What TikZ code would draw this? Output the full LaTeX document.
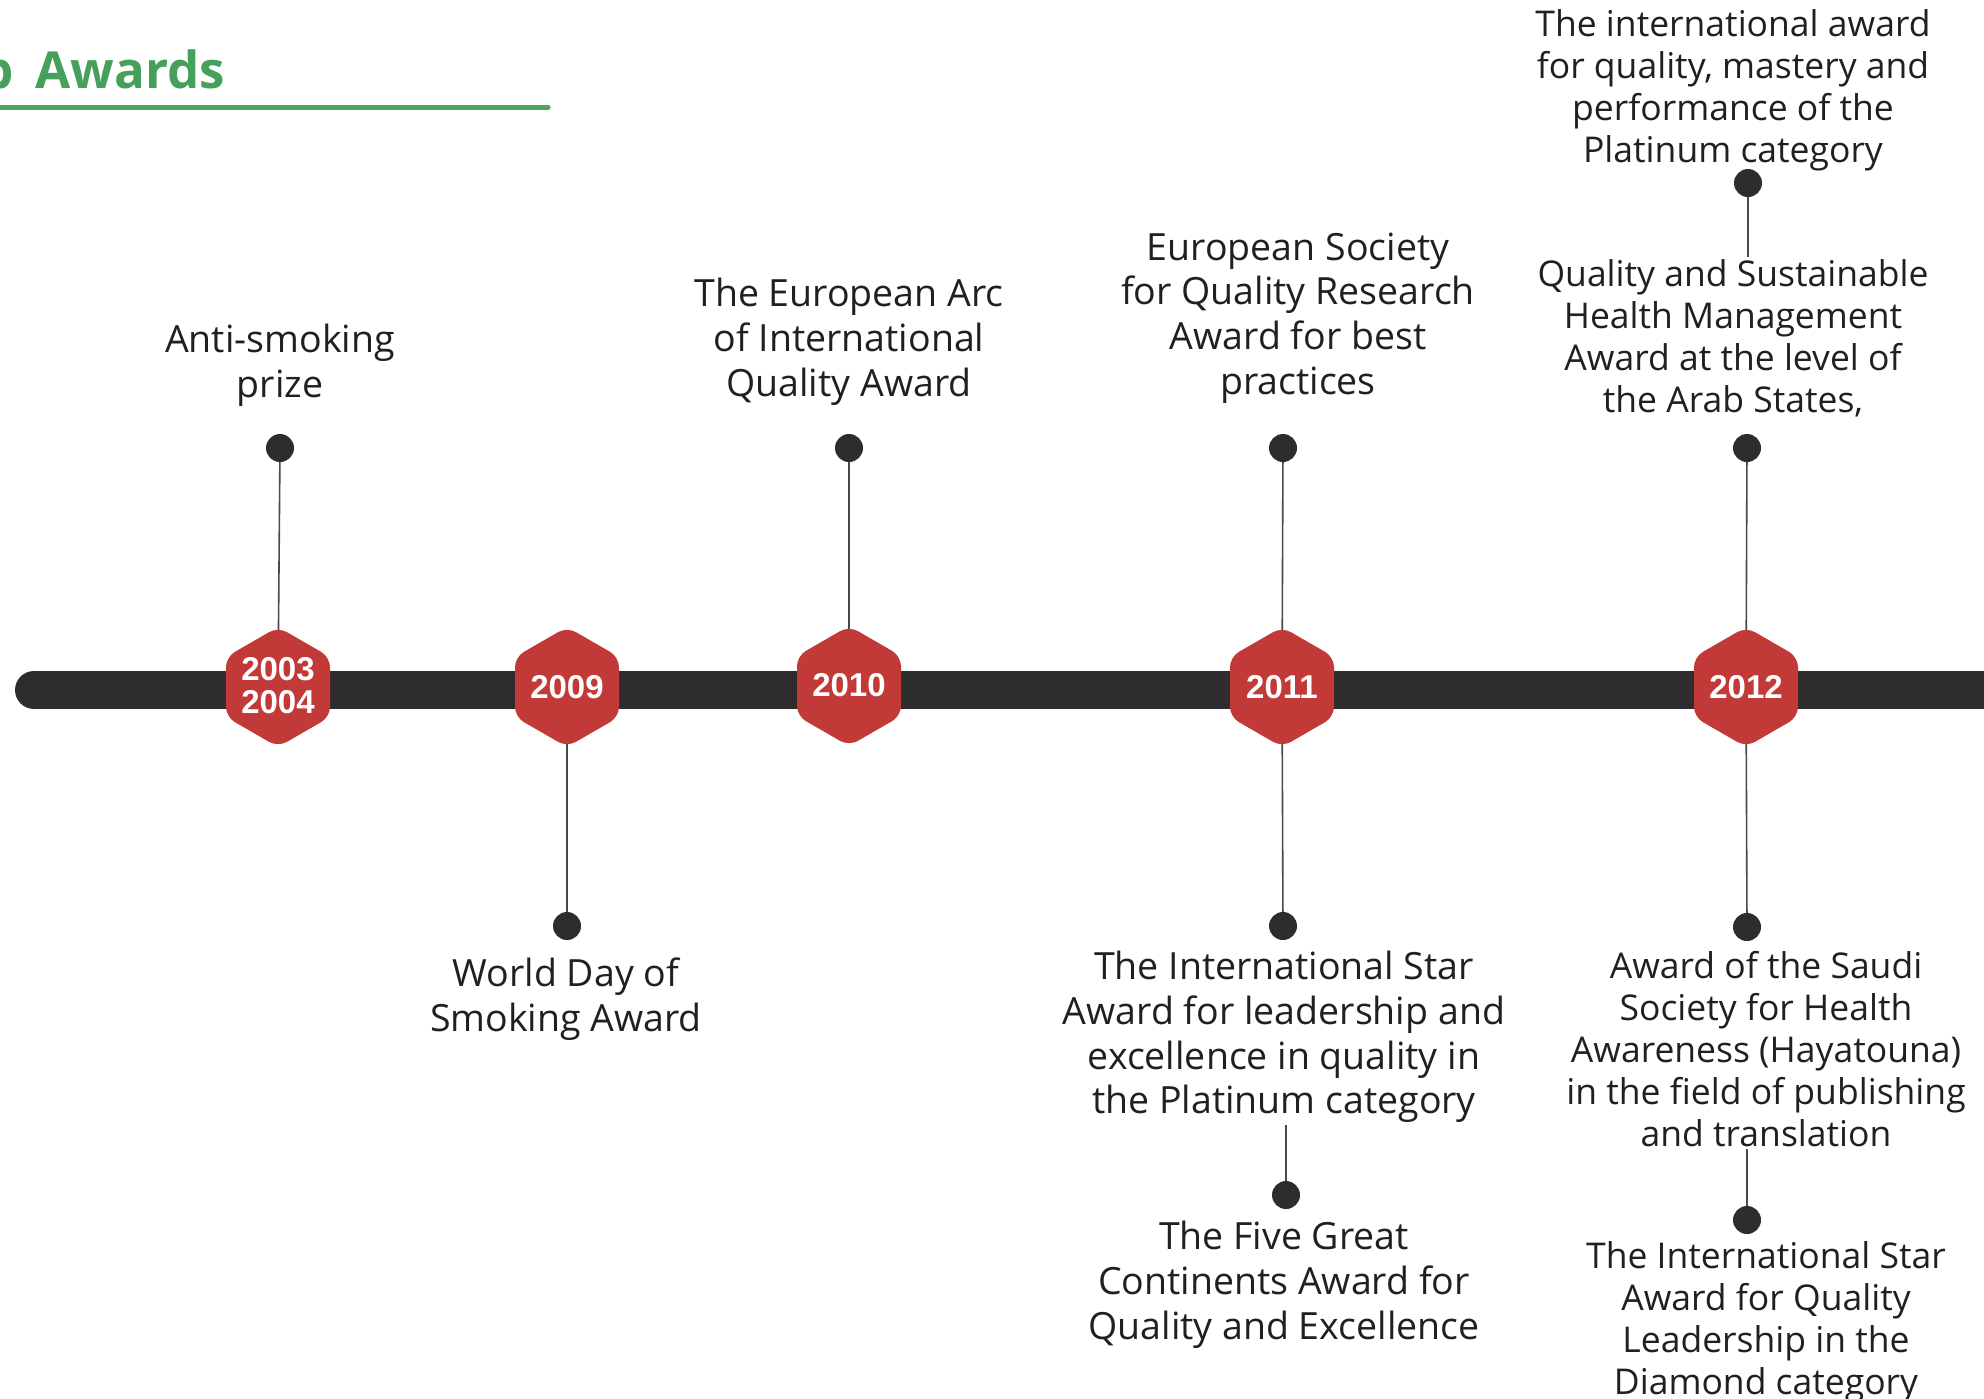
\documentclass[tikz,border=0pt]{standalone}
\usepackage{fontspec}
\setmainfont{Open Sans}
\newfontfamily\yearfont{Liberation Sans}
\usetikzlibrary{backgrounds}
\definecolor{barcol}{HTML}{2E2C2D}
\definecolor{hexred}{HTML}{C23A38}
\definecolor{titlegreen}{HTML}{44A05A}
\definecolor{linegreen}{HTML}{4CA55A}
\definecolor{txtcol}{HTML}{231F20}
\definecolor{conncol}{HTML}{4A4A4A}
\tikzset{
  lbl/.style={align=center, text=txtcol, inner sep=2pt, font=\fontsize{37.5}{44.8}\selectfont},
  lblsmall/.style={align=center, text=txtcol, inner sep=2pt, font=\fontsize{35.5}{42}\selectfont},
  dotnode/.style={circle, fill=barcol, minimum size=28pt, inner sep=0pt},
  yeartext/.style={text=white, align=center, inner sep=1pt, font=\yearfont\bfseries\fontsize{33}{33}\selectfont},
  hexshape/.style={fill=hexred, rounded corners=10pt},
  connector/.style={draw=conncol, line width=1.6pt},
  timebar/.style={draw=barcol, line width=38pt, line cap=round}
}
\newcommand{\hexat}[2]{\fill[hexshape] (#1+52,#2-30) -- (#1,#2-60) -- (#1-52,#2-30) -- (#1-52,#2+30) -- (#1,#2+60) -- (#1+52,#2+30) -- cycle;}
\begin{document}
\begin{tikzpicture}[x=1pt,y=-1pt]
\useasboundingbox (0,0) rectangle (1984,1398);
\clip (0,0) rectangle (1984,1398);

% title (left part cut off by the page edge, as in the reference)
\node[anchor=base west, inner sep=0pt, text=titlegreen, font=\bfseries\fontsize{51}{60}\selectfont] (title) at (-19,88) {b\hspace{9pt} Awards};
\coordinate (gl1) at (-10,107);
\coordinate (gl2) at (548,107);
\draw[linegreen, line width=5pt, line cap=round] (gl1) -- (gl2);

% bar
\coordinate (barL) at (34,690);
\coordinate (barR) at (2030,690);

% hexagons
\hexat{278}{687}
\hexat{567}{687}
\hexat{849}{686}
\hexat{1282}{687}
\hexat{1746}{687}
\node[yeartext] (y1) at (278,686) {2003\\2004};
\node[yeartext] (y2) at (567,687) {2009};
\node[yeartext] (y3) at (849,685) {2010};
\node[yeartext] (y4) at (1282,687) {2011};
\node[yeartext] (y5) at (1746,687) {2012};

% dots
\node[dotnode] (d1) at (280,448) {};
\node[dotnode] (d2) at (567,926) {};
\node[dotnode] (d3) at (849,448) {};
\node[dotnode] (d4) at (1283,448) {};
\node[dotnode] (d5) at (1283,926) {};
\node[dotnode] (d6) at (1286,1195) {};
\node[dotnode] (d7) at (1748,183) {};
\node[dotnode] (d8) at (1747,448) {};
\node[dotnode] (d9) at (1747,927) {};
\node[dotnode] (d10) at (1747,1220) {};

% labels
\node[lbl] (t1) at (280,365) {Anti-smoking\\prize};
\node[lbl] (t2) at (566,999) {World Day of\\Smoking Award};
\node[lbl] (t3) at (849,342) {The European Arc\\of International\\Quality Award};
\node[lbl] (t4) at (1298,318) {European Society\\for Quality Research\\Award for best\\practices};
\node[lbl] (t5) at (1284,1037) {The International Star\\Award for leadership and\\excellence in quality in\\the Platinum category};
\node[lbl] (t6) at (1284,1285) {The Five Great\\Continents Award for\\Quality and Excellence};
\node[lblsmall] (t7) at (1733,90) {The international award\\for quality, mastery and\\performance of the\\Platinum category};
\node[lblsmall] (t8) at (1733,338) {Quality and Sustainable\\Health Management\\Award at the level of\\the Arab States,};
\node[lblsmall] (t9) at (1766,1049) {Award of the Saudi\\Society for Health\\Awareness (Hayatouna)\\in the field of publishing\\and translation};
\node[lblsmall] (t10) at (1766,1322) {The International Star\\Award for Quality\\Leadership in the\\Diamond category};

\begin{pgfonlayer}{background}
\fill[white] (0,0) rectangle (1984,1398);
\draw[timebar] (barL) -- (barR);
\draw[connector] (d1) -- (y1);
\draw[connector] (y2) -- (d2);
\draw[connector] (d3) -- (y3);
\draw[connector] (d4) -- (y4);
\draw[connector] (y4) -- (d5);
\draw[connector] (d8) -- (y5);
\draw[connector] (y5) -- (d9);
\draw[connector] (d7) -- (d7 |- t8.north);
\draw[connector] (t5.south -| d6) -- (d6);
\draw[connector] (t9.south -| d10) -- (d10);
\end{pgfonlayer}
\end{tikzpicture}
\end{document}
